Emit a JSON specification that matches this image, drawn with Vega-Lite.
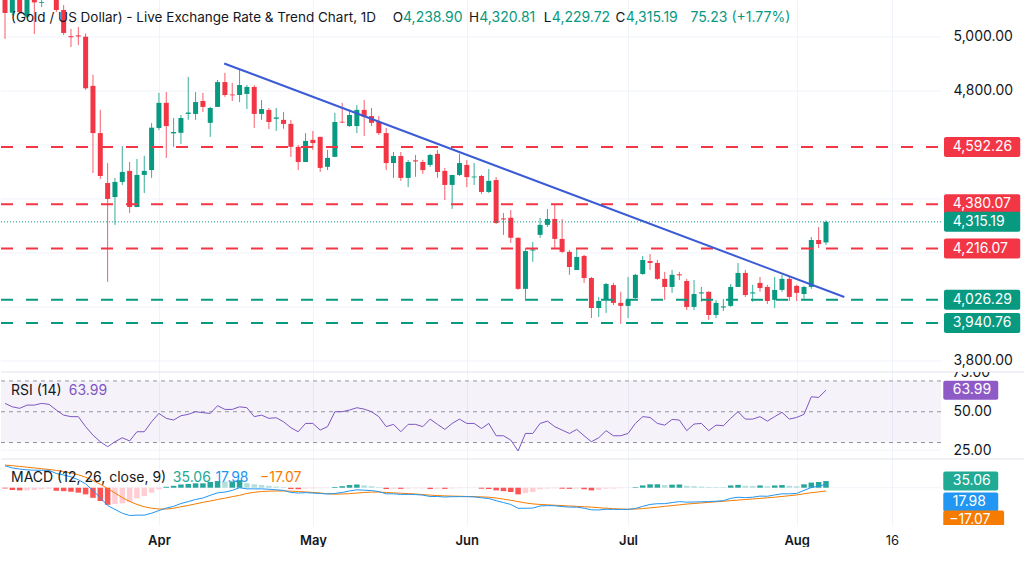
{
  "$schema": "https://vega.github.io/schema/vega-lite/v6.json",
  "padding": 0,
  "background": "white",
  "spacing": 0,
  "bounds": "flush",
  "resolve": {"scale": {"color": "independent"}},
  "config": {"view": {"stroke": null}, "font": "Inter", "scale": {"continuousPadding": 0}},
  "datasets": {
    "candles": [
      {"i":0,"o":5150,"h":5170,"l":4993,"c":5089},
      {"i":1,"o":5090,"h":5165,"l":5080,"c":5145},
      {"i":2,"o":5140,"h":5150,"l":5088,"c":5092},
      {"i":3,"o":5075,"h":5160,"l":5070,"c":5140},
      {"i":4,"o":5140,"h":5145,"l":5011,"c":5128},
      {"i":5,"o":5126,"h":5140,"l":5111,"c":5129},
      {"i":6,"o":5150,"h":5190,"l":5140,"c":5175},
      {"i":7,"o":5145,"h":5160,"l":5092,"c":5100},
      {"i":8,"o":5100,"h":5118,"l":5007,"c":5015},
      {"i":9,"o":5003,"h":5030,"l":4963,"c":4999},
      {"i":10,"o":5006,"h":5037,"l":4970,"c":5002},
      {"i":11,"o":5001,"h":5013,"l":4804,"c":4810},
      {"i":12,"o":4819,"h":4860,"l":4496,"c":4644},
      {"i":13,"o":4644,"h":4730,"l":4474,"c":4485},
      {"i":14,"o":4459,"h":4533,"l":4093,"c":4400},
      {"i":15,"o":4407,"h":4478,"l":4304,"c":4463},
      {"i":16,"o":4463,"h":4596,"l":4452,"c":4500},
      {"i":17,"o":4504,"h":4537,"l":4348,"c":4370},
      {"i":18,"o":4370,"h":4548,"l":4370,"c":4489},
      {"i":19,"o":4489,"h":4560,"l":4422,"c":4504},
      {"i":20,"o":4507,"h":4681,"l":4478,"c":4664},
      {"i":21,"o":4663,"h":4793,"l":4655,"c":4756},
      {"i":22,"o":4756,"h":4796,"l":4552,"c":4670},
      {"i":23,"o":4643,"h":4700,"l":4593,"c":4648},
      {"i":24,"o":4645,"h":4711,"l":4604,"c":4700},
      {"i":25,"o":4715,"h":4852,"l":4693,"c":4720},
      {"i":26,"o":4715,"h":4796,"l":4693,"c":4759},
      {"i":27,"o":4763,"h":4793,"l":4722,"c":4741},
      {"i":28,"o":4682,"h":4741,"l":4630,"c":4737},
      {"i":29,"o":4741,"h":4841,"l":4741,"c":4833},
      {"i":30,"o":4833,"h":4867,"l":4778,"c":4785},
      {"i":31,"o":4787,"h":4830,"l":4763,"c":4784},
      {"i":32,"o":4785,"h":4878,"l":4759,"c":4822},
      {"i":33,"o":4789,"h":4822,"l":4733,"c":4815},
      {"i":34,"o":4815,"h":4822,"l":4663,"c":4715},
      {"i":35,"o":4715,"h":4767,"l":4693,"c":4733},
      {"i":36,"o":4730,"h":4737,"l":4659,"c":4685},
      {"i":37,"o":4697,"h":4737,"l":4652,"c":4702},
      {"i":38,"o":4693,"h":4722,"l":4660,"c":4678},
      {"i":39,"o":4678,"h":4693,"l":4556,"c":4593},
      {"i":40,"o":4593,"h":4600,"l":4507,"c":4537},
      {"i":41,"o":4537,"h":4644,"l":4537,"c":4615},
      {"i":42,"o":4619,"h":4652,"l":4582,"c":4607},
      {"i":43,"o":4630,"h":4630,"l":4500,"c":4515},
      {"i":44,"o":4519,"h":4582,"l":4507,"c":4552},
      {"i":45,"o":4556,"h":4719,"l":4556,"c":4685},
      {"i":46,"o":4686,"h":4756,"l":4681,"c":4683},
      {"i":47,"o":4670,"h":4730,"l":4667,"c":4711},
      {"i":48,"o":4670,"h":4748,"l":4644,"c":4730},
      {"i":49,"o":4730,"h":4767,"l":4633,"c":4704},
      {"i":50,"o":4707,"h":4737,"l":4670,"c":4682},
      {"i":51,"o":4685,"h":4707,"l":4637,"c":4644},
      {"i":52,"o":4644,"h":4663,"l":4507,"c":4533},
      {"i":53,"o":4533,"h":4574,"l":4478,"c":4559},
      {"i":54,"o":4559,"h":4574,"l":4467,"c":4478},
      {"i":55,"o":4478,"h":4544,"l":4444,"c":4537},
      {"i":56,"o":4543,"h":4563,"l":4482,"c":4539},
      {"i":57,"o":4537,"h":4545,"l":4493,"c":4507},
      {"i":58,"o":4526,"h":4567,"l":4519,"c":4563},
      {"i":59,"o":4567,"h":4581,"l":4478,"c":4500},
      {"i":60,"o":4504,"h":4515,"l":4396,"c":4452},
      {"i":61,"o":4452,"h":4489,"l":4363,"c":4489},
      {"i":62,"o":4489,"h":4567,"l":4485,"c":4533},
      {"i":63,"o":4526,"h":4544,"l":4444,"c":4481},
      {"i":64,"o":4480,"h":4533,"l":4452,"c":4483},
      {"i":65,"o":4485,"h":4489,"l":4419,"c":4426},
      {"i":66,"o":4426,"h":4511,"l":4422,"c":4467},
      {"i":67,"o":4470,"h":4481,"l":4307,"c":4311},
      {"i":68,"o":4328,"h":4348,"l":4267,"c":4324},
      {"i":69,"o":4330,"h":4359,"l":4237,"c":4256},
      {"i":70,"o":4256,"h":4258,"l":4063,"c":4067},
      {"i":71,"o":4067,"h":4219,"l":4022,"c":4207},
      {"i":72,"o":4209,"h":4241,"l":4167,"c":4213},
      {"i":73,"o":4267,"h":4330,"l":4256,"c":4304},
      {"i":74,"o":4304,"h":4363,"l":4296,"c":4326},
      {"i":75,"o":4326,"h":4378,"l":4219,"c":4252},
      {"i":76,"o":4252,"h":4326,"l":4200,"c":4204},
      {"i":77,"o":4204,"h":4211,"l":4119,"c":4148},
      {"i":78,"o":4137,"h":4215,"l":4137,"c":4185},
      {"i":79,"o":4189,"h":4193,"l":4089,"c":4107},
      {"i":80,"o":4107,"h":4111,"l":3959,"c":3996},
      {"i":81,"o":3996,"h":4037,"l":3963,"c":4022},
      {"i":82,"o":4026,"h":4089,"l":3978,"c":4085},
      {"i":83,"o":4081,"h":4089,"l":4007,"c":4015},
      {"i":84,"o":4015,"h":4056,"l":3937,"c":4004},
      {"i":85,"o":4004,"h":4111,"l":3959,"c":4026},
      {"i":86,"o":4033,"h":4122,"l":4030,"c":4119},
      {"i":87,"o":4122,"h":4189,"l":4119,"c":4174},
      {"i":88,"o":4170,"h":4196,"l":4137,"c":4163},
      {"i":89,"o":4163,"h":4174,"l":4100,"c":4104},
      {"i":90,"o":4104,"h":4130,"l":4026,"c":4074},
      {"i":91,"o":4074,"h":4137,"l":4052,"c":4119},
      {"i":92,"o":4121,"h":4130,"l":4100,"c":4117},
      {"i":93,"o":4096,"h":4104,"l":3989,"c":4000},
      {"i":94,"o":4000,"h":4100,"l":3989,"c":4048},
      {"i":95,"o":4050,"h":4074,"l":4019,"c":4054},
      {"i":96,"o":4056,"h":4058,"l":3952,"c":3970},
      {"i":97,"o":3970,"h":4026,"l":3959,"c":4015},
      {"i":98,"o":3998,"h":4030,"l":3985,"c":4002},
      {"i":99,"o":4004,"h":4085,"l":4000,"c":4074},
      {"i":100,"o":4074,"h":4163,"l":4074,"c":4126},
      {"i":101,"o":4126,"h":4137,"l":4037,"c":4044},
      {"i":102,"o":4050,"h":4082,"l":4019,"c":4054},
      {"i":103,"o":4089,"h":4111,"l":4056,"c":4070},
      {"i":104,"o":4074,"h":4082,"l":4011,"c":4022},
      {"i":105,"o":4026,"h":4111,"l":3996,"c":4063},
      {"i":106,"o":4063,"h":4119,"l":4056,"c":4104},
      {"i":107,"o":4104,"h":4111,"l":4022,"c":4037},
      {"i":108,"o":4078,"h":4082,"l":4022,"c":4052},
      {"i":109,"o":4048,"h":4078,"l":4030,"c":4074},
      {"i":110,"o":4074,"h":4259,"l":4067,"c":4248},
      {"i":111,"o":4248,"h":4296,"l":4218,"c":4233},
      {"i":112,"o":4238.90,"h":4320.81,"l":4229.72,"c":4315.19}
    ],
    "ind": [
      {"i":0,"rsi":55.4,"macd":115,"signal":119,"hist":-4,"phase":"neg_grow"},
      {"i":1,"rsi":53.2,"macd":104,"signal":116,"hist":-12,"phase":"neg_grow"},
      {"i":2,"rsi":52.2,"macd":98,"signal":112,"hist":-14,"phase":"neg_grow"},
      {"i":3,"rsi":54.3,"macd":94,"signal":108,"hist":-14,"phase":"neg_fade"},
      {"i":4,"rsi":54.3,"macd":92,"signal":104,"hist":-12,"phase":"neg_fade"},
      {"i":5,"rsi":55.4,"macd":92,"signal":100,"hist":-8,"phase":"neg_fade"},
      {"i":6,"rsi":54.8,"macd":91,"signal":96,"hist":-5,"phase":"neg_fade"},
      {"i":7,"rsi":51.1,"macd":75,"signal":91,"hist":-16,"phase":"neg_grow"},
      {"i":8,"rsi":47.8,"macd":67,"signal":85,"hist":-18,"phase":"neg_grow"},
      {"i":9,"rsi":46.8,"macd":57,"signal":78,"hist":-21,"phase":"neg_grow"},
      {"i":10,"rsi":46.8,"macd":42,"signal":68,"hist":-26,"phase":"neg_grow"},
      {"i":11,"rsi":40.3,"macd":20,"signal":55,"hist":-35,"phase":"neg_grow"},
      {"i":12,"rsi":34.8,"macd":-15,"signal":38,"hist":-53,"phase":"neg_grow"},
      {"i":13,"rsi":30.5,"macd":-52,"signal":18,"hist":-70,"phase":"neg_grow"},
      {"i":14,"rsi":27.3,"macd":-94,"signal":-4,"hist":-90,"phase":"neg_grow"},
      {"i":15,"rsi":30.5,"macd":-114,"signal":-28,"hist":-86,"phase":"neg_fade"},
      {"i":16,"rsi":33.1,"macd":-134,"signal":-52,"hist":-82,"phase":"neg_fade"},
      {"i":17,"rsi":31.0,"macd":-146,"signal":-72,"hist":-74,"phase":"neg_fade"},
      {"i":18,"rsi":37.0,"macd":-144,"signal":-88,"hist":-56,"phase":"neg_fade"},
      {"i":19,"rsi":37.0,"macd":-144,"signal":-100,"hist":-44,"phase":"neg_fade"},
      {"i":20,"rsi":43.5,"macd":-134,"signal":-108,"hist":-26,"phase":"neg_fade"},
      {"i":21,"rsi":48.9,"macd":-120,"signal":-112,"hist":-8,"phase":"neg_fade"},
      {"i":22,"rsi":45.7,"macd":-107,"signal":-112,"hist":5,"phase":"pos_grow"},
      {"i":23,"rsi":44.6,"macd":-98,"signal":-108,"hist":10,"phase":"pos_grow"},
      {"i":24,"rsi":47.4,"macd":-83,"signal":-100,"hist":17,"phase":"pos_grow"},
      {"i":25,"rsi":48.3,"macd":-73,"signal":-93,"hist":20,"phase":"pos_grow"},
      {"i":26,"rsi":50.0,"macd":-62,"signal":-85,"hist":23,"phase":"pos_grow"},
      {"i":27,"rsi":49.4,"macd":-54,"signal":-77,"hist":23,"phase":"pos_grow"},
      {"i":28,"rsi":48.9,"macd":-40,"signal":-70,"hist":30,"phase":"pos_grow"},
      {"i":29,"rsi":53.9,"macd":-27,"signal":-62,"hist":35,"phase":"pos_grow"},
      {"i":30,"rsi":51.5,"macd":-23,"signal":-55,"hist":32,"phase":"pos_fade"},
      {"i":31,"rsi":51.5,"macd":-14,"signal":-47,"hist":33,"phase":"pos_grow"},
      {"i":32,"rsi":53.2,"macd":0,"signal":-40,"hist":40,"phase":"pos_grow"},
      {"i":33,"rsi":52.6,"macd":-6,"signal":-30,"hist":24,"phase":"pos_fade"},
      {"i":34,"rsi":46.8,"macd":-6,"signal":-24,"hist":18,"phase":"pos_fade"},
      {"i":35,"rsi":47.8,"macd":-6,"signal":-20,"hist":14,"phase":"pos_fade"},
      {"i":36,"rsi":45.7,"macd":-8,"signal":-18,"hist":10,"phase":"pos_fade"},
      {"i":37,"rsi":46.1,"macd":-11,"signal":-17,"hist":6,"phase":"pos_fade"},
      {"i":38,"rsi":43.5,"macd":-14,"signal":-17,"hist":3,"phase":"pos_fade"},
      {"i":39,"rsi":39.6,"macd":-25,"signal":-18,"hist":-7,"phase":"neg_grow"},
      {"i":40,"rsi":37.0,"macd":-28,"signal":-20,"hist":-8,"phase":"neg_grow"},
      {"i":41,"rsi":42.4,"macd":-26,"signal":-22,"hist":-4,"phase":"neg_fade"},
      {"i":42,"rsi":42.4,"macd":-28,"signal":-25,"hist":-3,"phase":"neg_fade"},
      {"i":43,"rsi":38.1,"macd":-30,"signal":-28,"hist":-2,"phase":"neg_fade"},
      {"i":44,"rsi":40.3,"macd":-33,"signal":-32,"hist":-1,"phase":"neg_fade"},
      {"i":45,"rsi":50.0,"macd":-30,"signal":-34,"hist":4,"phase":"pos_grow"},
      {"i":46,"rsi":50.0,"macd":-25,"signal":-33,"hist":8,"phase":"pos_grow"},
      {"i":47,"rsi":51.1,"macd":-17,"signal":-31,"hist":14,"phase":"pos_grow"},
      {"i":48,"rsi":52.6,"macd":-11,"signal":-28,"hist":17,"phase":"pos_grow"},
      {"i":49,"rsi":51.7,"macd":-13,"signal":-25,"hist":12,"phase":"pos_fade"},
      {"i":50,"rsi":50.0,"macd":-15,"signal":-23,"hist":8,"phase":"pos_fade"},
      {"i":51,"rsi":46.8,"macd":-20,"signal":-23,"hist":3,"phase":"pos_fade"},
      {"i":52,"rsi":40.3,"macd":-32,"signal":-25,"hist":-7,"phase":"neg_grow"},
      {"i":53,"rsi":41.8,"macd":-32,"signal":-27,"hist":-5,"phase":"neg_fade"},
      {"i":54,"rsi":37.0,"macd":-35,"signal":-29,"hist":-6,"phase":"neg_grow"},
      {"i":55,"rsi":41.8,"macd":-35,"signal":-31,"hist":-4,"phase":"neg_fade"},
      {"i":56,"rsi":41.8,"macd":-36,"signal":-33,"hist":-3,"phase":"neg_fade"},
      {"i":57,"rsi":40.3,"macd":-39,"signal":-36,"hist":-3,"phase":"neg_fade"},
      {"i":58,"rsi":45.2,"macd":-46,"signal":-39,"hist":-7,"phase":"neg_grow"},
      {"i":59,"rsi":41.8,"macd":-46,"signal":-41,"hist":-5,"phase":"neg_fade"},
      {"i":60,"rsi":38.5,"macd":-49,"signal":-43,"hist":-6,"phase":"neg_grow"},
      {"i":61,"rsi":42.4,"macd":-47,"signal":-44,"hist":-3,"phase":"neg_fade"},
      {"i":62,"rsi":45.2,"macd":-47,"signal":-45,"hist":-2,"phase":"neg_fade"},
      {"i":63,"rsi":42.4,"macd":-47,"signal":-46,"hist":-1,"phase":"neg_fade"},
      {"i":64,"rsi":42.4,"macd":-48,"signal":-47,"hist":-1,"phase":"neg_fade"},
      {"i":65,"rsi":39.1,"macd":-53,"signal":-48,"hist":-5,"phase":"neg_grow"},
      {"i":66,"rsi":42.4,"macd":-57,"signal":-50,"hist":-7,"phase":"neg_grow"},
      {"i":67,"rsi":34.4,"macd":-68,"signal":-54,"hist":-14,"phase":"neg_grow"},
      {"i":68,"rsi":34.4,"macd":-78,"signal":-60,"hist":-18,"phase":"neg_grow"},
      {"i":69,"rsi":31.6,"macd":-88,"signal":-66,"hist":-22,"phase":"neg_grow"},
      {"i":70,"rsi":24.5,"macd":-108,"signal":-73,"hist":-35,"phase":"neg_grow"},
      {"i":71,"rsi":35.9,"macd":-108,"signal":-80,"hist":-28,"phase":"neg_fade"},
      {"i":72,"rsi":35.9,"macd":-107,"signal":-85,"hist":-22,"phase":"neg_fade"},
      {"i":73,"rsi":42.4,"macd":-96,"signal":-88,"hist":-8,"phase":"neg_fade"},
      {"i":74,"rsi":43.9,"macd":-94,"signal":-90,"hist":-4,"phase":"neg_fade"},
      {"i":75,"rsi":40.3,"macd":-95,"signal":-92,"hist":-3,"phase":"neg_fade"},
      {"i":76,"rsi":38.1,"macd":-99,"signal":-94,"hist":-5,"phase":"neg_grow"},
      {"i":77,"rsi":35.9,"macd":-102,"signal":-96,"hist":-6,"phase":"neg_grow"},
      {"i":78,"rsi":38.5,"macd":-102,"signal":-98,"hist":-4,"phase":"neg_fade"},
      {"i":79,"rsi":34.4,"macd":-108,"signal":-100,"hist":-8,"phase":"neg_grow"},
      {"i":80,"rsi":30.5,"macd":-116,"signal":-102,"hist":-14,"phase":"neg_grow"},
      {"i":81,"rsi":33.1,"macd":-117,"signal":-105,"hist":-12,"phase":"neg_fade"},
      {"i":82,"rsi":37.7,"macd":-113,"signal":-108,"hist":-5,"phase":"neg_fade"},
      {"i":83,"rsi":34.4,"macd":-114,"signal":-110,"hist":-4,"phase":"neg_fade"},
      {"i":84,"rsi":34.4,"macd":-114,"signal":-112,"hist":-2,"phase":"neg_fade"},
      {"i":85,"rsi":35.9,"macd":-114,"signal":-113,"hist":-1,"phase":"neg_fade"},
      {"i":86,"rsi":42.4,"macd":-109,"signal":-112,"hist":3,"phase":"pos_grow"},
      {"i":87,"rsi":46.8,"macd":-98,"signal":-110,"hist":12,"phase":"pos_grow"},
      {"i":88,"rsi":46.3,"macd":-88,"signal":-106,"hist":18,"phase":"pos_grow"},
      {"i":89,"rsi":42.4,"macd":-84,"signal":-102,"hist":18,"phase":"pos_grow"},
      {"i":90,"rsi":41.3,"macd":-84,"signal":-98,"hist":14,"phase":"pos_fade"},
      {"i":91,"rsi":45.0,"macd":-78,"signal":-94,"hist":16,"phase":"pos_grow"},
      {"i":92,"rsi":44.6,"macd":-73,"signal":-90,"hist":17,"phase":"pos_grow"},
      {"i":93,"rsi":37.7,"macd":-76,"signal":-86,"hist":10,"phase":"pos_fade"},
      {"i":94,"rsi":42.0,"macd":-75,"signal":-83,"hist":8,"phase":"pos_fade"},
      {"i":95,"rsi":42.4,"macd":-74,"signal":-80,"hist":6,"phase":"pos_fade"},
      {"i":96,"rsi":37.7,"macd":-73,"signal":-77,"hist":4,"phase":"pos_fade"},
      {"i":97,"rsi":41.3,"macd":-71,"signal":-74,"hist":3,"phase":"pos_fade"},
      {"i":98,"rsi":40.9,"macd":-68,"signal":-71,"hist":3,"phase":"pos_fade"},
      {"i":99,"rsi":45.7,"macd":-56,"signal":-68,"hist":12,"phase":"pos_grow"},
      {"i":100,"rsi":50.0,"macd":-50,"signal":-65,"hist":15,"phase":"pos_grow"},
      {"i":101,"rsi":45.2,"macd":-52,"signal":-62,"hist":10,"phase":"pos_fade"},
      {"i":102,"rsi":45.2,"macd":-50,"signal":-59,"hist":9,"phase":"pos_fade"},
      {"i":103,"rsi":46.8,"macd":-44,"signal":-56,"hist":12,"phase":"pos_grow"},
      {"i":104,"rsi":43.9,"macd":-45,"signal":-53,"hist":8,"phase":"pos_fade"},
      {"i":105,"rsi":46.8,"macd":-38,"signal":-50,"hist":12,"phase":"pos_grow"},
      {"i":106,"rsi":49.6,"macd":-32,"signal":-46,"hist":14,"phase":"pos_grow"},
      {"i":107,"rsi":45.2,"macd":-32,"signal":-42,"hist":10,"phase":"pos_fade"},
      {"i":108,"rsi":46.3,"macd":-30,"signal":-38,"hist":8,"phase":"pos_fade"},
      {"i":109,"rsi":48.3,"macd":-14,"signal":-32,"hist":18,"phase":"pos_grow"},
      {"i":110,"rsi":59.7,"macd":1,"signal":-26,"hist":27,"phase":"pos_grow"},
      {"i":111,"rsi":59.3,"macd":8,"signal":-22,"hist":30,"phase":"pos_grow"},
      {"i":112,"rsi":63.99,"macd":17.98,"signal":-17.07,"hist":35.06,"phase":"pos_grow"}
    ],
    "levels": [
      {"level":4592.26,"kind":"res"},
      {"level":4380.07,"kind":"res"},
      {"level":4216.07,"kind":"res"},
      {"level":4026.29,"kind":"sup"},
      {"level":3940.76,"kind":"sup"}
    ],
    "trend": [
      {"i":29.9,"p":4902},
      {"i":114.5,"p":4037}
    ],
    "pgrid": [{"v":3800},{"v":4000},{"v":4200},{"v":4400},{"v":4600},{"v":4800},{"v":5000}],
    "rsiBands": [{"v":30},{"v":50},{"v":70}],
    "one": [{}]
  },
  "vconcat": [
    {
      "width": 1024,
      "height": 372,
      "layer": [
        {
          "data": {"name": "pgrid"},
          "mark": {"type": "rule", "color": "#f0f3fa", "strokeWidth": 1},
          "encoding": {
            "x": {"datum": -0.546, "type": "quantitative", "scale": {"domain": [-0.546, 139.15], "nice": false, "zero": false, "padding": 0}},
            "x2": {"datum": 127.7},
            "y": {"field": "v", "type": "quantitative", "scale": {"domain": [3759, 5137], "nice": false, "zero": false, "padding": 0}}
          }
        },
        {
          "data": {"name": "candles"},
          "mark": {"type": "rule", "strokeWidth": 1, "opacity": 0.8, "clip": true},
          "encoding": {
            "x": {"field": "i", "type": "quantitative", "scale": {"domain": [-0.546, 139.15], "nice": false, "zero": false, "padding": 0},
              "axis": {"values": [21, 42, 63, 85, 108, 121], "grid": true, "gridColor": "#f0f3fa", "labels": false, "ticks": false, "domain": false, "title": null}},
            "y": {"field": "l", "type": "quantitative", "scale": {"domain": [3759, 5137], "nice": false, "zero": false, "padding": 0},
              "axis": {"orient": "right", "values": [3800, 4800, 5000], "format": ",.2f", "offset": -84, "domain": false, "ticks": false, "grid": false, "labelAlign": "left", "labelPadding": 12, "labelFontSize": 14, "labelColor": "#131722", "title": null}},
            "y2": {"field": "h"},
            "color": {"condition": {"test": "datum.c >= datum.o", "value": "#089981"}, "value": "#f23645"}
          }
        },
        {
          "data": {"name": "candles"},
          "mark": {"type": "bar", "width": 5, "clip": true},
          "encoding": {
            "x": {"field": "i", "type": "quantitative", "scale": {"domain": [-0.546, 139.15], "nice": false, "zero": false, "padding": 0}},
            "y": {"field": "o", "type": "quantitative", "scale": {"domain": [3759, 5137], "nice": false, "zero": false, "padding": 0}},
            "y2": {"field": "c"},
            "color": {"condition": {"test": "datum.c >= datum.o", "value": "#089981"}, "value": "#f23645"}
          }
        },
        {
          "data": {"name": "levels"},
          "mark": {"type": "rule", "strokeWidth": 2, "strokeDash": [12, 13]},
          "encoding": {
            "x": {"datum": -0.546, "type": "quantitative", "scale": {"domain": [-0.546, 139.15], "nice": false, "zero": false, "padding": 0}},
            "x2": {"datum": 127.7},
            "y": {"field": "level", "type": "quantitative", "scale": {"domain": [3759, 5137], "nice": false, "zero": false, "padding": 0}},
            "color": {"field": "kind", "type": "nominal", "scale": {"domain": ["res", "sup"], "range": ["#f23645", "#089981"]}, "legend": null}
          }
        },
        {
          "data": {"name": "candles"},
          "transform": [{"filter": "datum.i == 112"}],
          "mark": {"type": "rule", "strokeWidth": 1, "strokeDash": [1, 2], "color": "#089981"},
          "encoding": {
            "x": {"datum": -0.546, "type": "quantitative", "scale": {"domain": [-0.546, 139.15], "nice": false, "zero": false, "padding": 0}},
            "x2": {"datum": 127.7},
            "y": {"field": "c", "type": "quantitative", "scale": {"domain": [3759, 5137], "nice": false, "zero": false, "padding": 0}}
          }
        },
        {
          "data": {"name": "trend"},
          "mark": {"type": "line", "color": "#3b5bd6", "strokeWidth": 2},
          "encoding": {
            "x": {"field": "i", "type": "quantitative", "scale": {"domain": [-0.546, 139.15], "nice": false, "zero": false, "padding": 0}},
            "y": {"field": "p", "type": "quantitative", "scale": {"domain": [3759, 5137], "nice": false, "zero": false, "padding": 0}}
          }
        },
        {
          "data": {"name": "levels"},
          "mark": {"type": "bar", "height": 20, "cornerRadius": 2},
          "encoding": {
            "x": {"datum": 128.1, "type": "quantitative", "scale": {"domain": [-0.546, 139.15], "nice": false, "zero": false, "padding": 0}},
            "x2": {"datum": 138.5},
            "y": {"field": "level", "type": "quantitative", "scale": {"domain": [3759, 5137], "nice": false, "zero": false, "padding": 0}},
            "color": {"field": "kind", "type": "nominal", "scale": {"domain": ["res", "sup"], "range": ["#f23645", "#089981"]}, "legend": null}
          }
        },
        {
          "data": {"name": "candles"},
          "transform": [{"filter": "datum.i == 112"}],
          "mark": {"type": "bar", "height": 20, "cornerRadius": 2, "color": "#089981"},
          "encoding": {
            "x": {"datum": 128.1, "type": "quantitative", "scale": {"domain": [-0.546, 139.15], "nice": false, "zero": false, "padding": 0}},
            "x2": {"datum": 138.5},
            "y": {"field": "c", "type": "quantitative", "scale": {"domain": [3759, 5137], "nice": false, "zero": false, "padding": 0}}
          }
        },
        {
          "data": {"name": "levels"},
          "mark": {"type": "text", "align": "left", "baseline": "middle", "fontSize": 14, "color": "white"},
          "encoding": {
            "x": {"datum": 129.3, "type": "quantitative", "scale": {"domain": [-0.546, 139.15], "nice": false, "zero": false, "padding": 0}},
            "y": {"field": "level", "type": "quantitative", "scale": {"domain": [3759, 5137], "nice": false, "zero": false, "padding": 0}},
            "text": {"field": "level", "type": "quantitative", "format": ",.2f"}
          }
        },
        {
          "data": {"name": "candles"},
          "transform": [{"filter": "datum.i == 112"}],
          "mark": {"type": "text", "align": "left", "baseline": "middle", "fontSize": 14, "color": "white"},
          "encoding": {
            "x": {"datum": 129.3, "type": "quantitative", "scale": {"domain": [-0.546, 139.15], "nice": false, "zero": false, "padding": 0}},
            "y": {"field": "c", "type": "quantitative", "scale": {"domain": [3759, 5137], "nice": false, "zero": false, "padding": 0}},
            "text": {"field": "c", "type": "quantitative", "format": ",.2f"}
          }
        },
        {
          "data": {"name": "one"},
          "mark": {"type": "text", "align": "left", "baseline": "middle", "fontSize": 13.5, "color": "#131722", "text": "(Gold / US Dollar) - Live Exchange Rate & Trend Chart, 1D"},
          "encoding": {
            "x": {"datum": 0.82, "type": "quantitative", "scale": {"domain": [-0.546, 139.15], "nice": false, "zero": false, "padding": 0}},
            "y": {"datum": 5070, "type": "quantitative", "scale": {"domain": [3759, 5137], "nice": false, "zero": false, "padding": 0}}
          }
        },
        {
          "data": {"name": "one"},
          "mark": {"type": "text", "align": "left", "baseline": "middle", "fontSize": 13.5, "color": "#131722", "text": "O"},
          "encoding": {
            "x": {"datum": 52.9, "type": "quantitative", "scale": {"domain": [-0.546, 139.15], "nice": false, "zero": false, "padding": 0}},
            "y": {"datum": 5070, "type": "quantitative", "scale": {"domain": [3759, 5137], "nice": false, "zero": false, "padding": 0}}
          }
        },
        {
          "data": {"name": "one"},
          "mark": {"type": "text", "align": "left", "baseline": "middle", "fontSize": 14, "color": "#089981", "text": "4,238.90"},
          "encoding": {
            "x": {"datum": 54.3, "type": "quantitative", "scale": {"domain": [-0.546, 139.15], "nice": false, "zero": false, "padding": 0}},
            "y": {"datum": 5070, "type": "quantitative", "scale": {"domain": [3759, 5137], "nice": false, "zero": false, "padding": 0}}
          }
        },
        {
          "data": {"name": "one"},
          "mark": {"type": "text", "align": "left", "baseline": "middle", "fontSize": 13.5, "color": "#131722", "text": "H"},
          "encoding": {
            "x": {"datum": 63.3, "type": "quantitative", "scale": {"domain": [-0.546, 139.15], "nice": false, "zero": false, "padding": 0}},
            "y": {"datum": 5070, "type": "quantitative", "scale": {"domain": [3759, 5137], "nice": false, "zero": false, "padding": 0}}
          }
        },
        {
          "data": {"name": "one"},
          "mark": {"type": "text", "align": "left", "baseline": "middle", "fontSize": 14, "color": "#089981", "text": "4,320.81"},
          "encoding": {
            "x": {"datum": 64.7, "type": "quantitative", "scale": {"domain": [-0.546, 139.15], "nice": false, "zero": false, "padding": 0}},
            "y": {"datum": 5070, "type": "quantitative", "scale": {"domain": [3759, 5137], "nice": false, "zero": false, "padding": 0}}
          }
        },
        {
          "data": {"name": "one"},
          "mark": {"type": "text", "align": "left", "baseline": "middle", "fontSize": 13.5, "color": "#131722", "text": "L"},
          "encoding": {
            "x": {"datum": 73.5, "type": "quantitative", "scale": {"domain": [-0.546, 139.15], "nice": false, "zero": false, "padding": 0}},
            "y": {"datum": 5070, "type": "quantitative", "scale": {"domain": [3759, 5137], "nice": false, "zero": false, "padding": 0}}
          }
        },
        {
          "data": {"name": "one"},
          "mark": {"type": "text", "align": "left", "baseline": "middle", "fontSize": 14, "color": "#089981", "text": "4,229.72"},
          "encoding": {
            "x": {"datum": 74.6, "type": "quantitative", "scale": {"domain": [-0.546, 139.15], "nice": false, "zero": false, "padding": 0}},
            "y": {"datum": 5070, "type": "quantitative", "scale": {"domain": [3759, 5137], "nice": false, "zero": false, "padding": 0}}
          }
        },
        {
          "data": {"name": "one"},
          "mark": {"type": "text", "align": "left", "baseline": "middle", "fontSize": 13.5, "color": "#131722", "text": "C"},
          "encoding": {
            "x": {"datum": 83.3, "type": "quantitative", "scale": {"domain": [-0.546, 139.15], "nice": false, "zero": false, "padding": 0}},
            "y": {"datum": 5070, "type": "quantitative", "scale": {"domain": [3759, 5137], "nice": false, "zero": false, "padding": 0}}
          }
        },
        {
          "data": {"name": "one"},
          "mark": {"type": "text", "align": "left", "baseline": "middle", "fontSize": 14, "color": "#089981", "text": "4,315.19"},
          "encoding": {
            "x": {"datum": 84.7, "type": "quantitative", "scale": {"domain": [-0.546, 139.15], "nice": false, "zero": false, "padding": 0}},
            "y": {"datum": 5070, "type": "quantitative", "scale": {"domain": [3759, 5137], "nice": false, "zero": false, "padding": 0}}
          }
        },
        {
          "data": {"name": "one"},
          "mark": {"type": "text", "align": "left", "baseline": "middle", "fontSize": 14, "color": "#089981", "text": "75.23 (+1.77%)"},
          "encoding": {
            "x": {"datum": 93.5, "type": "quantitative", "scale": {"domain": [-0.546, 139.15], "nice": false, "zero": false, "padding": 0}},
            "y": {"datum": 5070, "type": "quantitative", "scale": {"domain": [3759, 5137], "nice": false, "zero": false, "padding": 0}}
          }
        }
      ]
    },
    {
      "width": 1024,
      "height": 87,
      "layer": [
        {
          "data": {"name": "one"},
          "mark": {"type": "rect", "color": "#7e57c2", "opacity": 0.08},
          "encoding": {
            "x": {"datum": -0.546, "type": "quantitative", "scale": {"domain": [-0.546, 139.15], "nice": false, "zero": false, "padding": 0}},
            "x2": {"datum": 127.7},
            "y": {"datum": 30, "type": "quantitative", "scale": {"domain": [19.3, 75.8], "nice": false, "zero": false, "padding": 0}},
            "y2": {"datum": 70}
          }
        },
        {
          "data": {"name": "one"},
          "mark": {"type": "rule", "color": "#e0e3eb", "strokeWidth": 1},
          "encoding": {
            "x": {"datum": -0.546, "type": "quantitative", "scale": {"domain": [-0.546, 139.15], "nice": false, "zero": false, "padding": 0}},
            "x2": {"datum": 139.15},
            "y": {"datum": 75.8, "type": "quantitative", "scale": {"domain": [19.3, 75.8], "nice": false, "zero": false, "padding": 0}}
          }
        },
        {
          "data": {"name": "one"},
          "mark": {"type": "rule", "color": "#f0f3fa", "strokeWidth": 1},
          "encoding": {
            "x": {"datum": -0.546, "type": "quantitative", "scale": {"domain": [-0.546, 139.15], "nice": false, "zero": false, "padding": 0}},
            "x2": {"datum": 127.7},
            "y": {"datum": 25, "type": "quantitative", "scale": {"domain": [19.3, 75.8], "nice": false, "zero": false, "padding": 0}}
          }
        },
        {
          "data": {"name": "rsiBands"},
          "mark": {"type": "rule", "color": "#9598a1", "strokeWidth": 1, "strokeDash": [4, 4]},
          "encoding": {
            "x": {"datum": -0.546, "type": "quantitative", "scale": {"domain": [-0.546, 139.15], "nice": false, "zero": false, "padding": 0}},
            "x2": {"datum": 127.7},
            "y": {"field": "v", "type": "quantitative", "scale": {"domain": [19.3, 75.8], "nice": false, "zero": false, "padding": 0}}
          }
        },
        {
          "data": {"name": "ind"},
          "mark": {"type": "line", "color": "#7e57c2", "strokeWidth": 1},
          "encoding": {
            "x": {"field": "i", "type": "quantitative", "scale": {"domain": [-0.546, 139.15], "nice": false, "zero": false, "padding": 0},
              "axis": {"values": [21, 42, 63, 85, 108, 121], "grid": true, "gridColor": "#f0f3fa", "labels": false, "ticks": false, "domain": false, "title": null}},
            "y": {"field": "rsi", "type": "quantitative", "scale": {"domain": [19.3, 75.8], "nice": false, "zero": false, "padding": 0},
              "axis": {"orient": "right", "values": [25, 50], "format": ".2f", "offset": -84, "domain": false, "ticks": false, "grid": false, "labelAlign": "left", "labelPadding": 12, "labelFontSize": 14, "labelColor": "#131722", "title": null}}
          }
        },
        {
          "data": {"name": "one"},
          "mark": {"type": "text", "align": "left", "baseline": "middle", "fontSize": 14, "color": "#131722", "text": "75.00", "clip": true},
          "encoding": {
            "x": {"datum": 129.3, "type": "quantitative", "scale": {"domain": [-0.546, 139.15], "nice": false, "zero": false, "padding": 0}},
            "y": {"datum": 75, "type": "quantitative", "scale": {"domain": [19.3, 75.8], "nice": false, "zero": false, "padding": 0}}
          }
        },
        {
          "data": {"name": "ind"},
          "transform": [{"filter": "datum.i == 112"}],
          "mark": {"type": "bar", "height": 19, "cornerRadius": 2, "color": "#8e5bc6"},
          "encoding": {
            "x": {"datum": 128.0, "type": "quantitative", "scale": {"domain": [-0.546, 139.15], "nice": false, "zero": false, "padding": 0}},
            "x2": {"datum": 135.5},
            "y": {"field": "rsi", "type": "quantitative", "scale": {"domain": [19.3, 75.8], "nice": false, "zero": false, "padding": 0}}
          }
        },
        {
          "data": {"name": "ind"},
          "transform": [{"filter": "datum.i == 112"}],
          "mark": {"type": "text", "align": "left", "baseline": "middle", "fontSize": 14, "color": "white"},
          "encoding": {
            "x": {"datum": 129.3, "type": "quantitative", "scale": {"domain": [-0.546, 139.15], "nice": false, "zero": false, "padding": 0}},
            "y": {"field": "rsi", "type": "quantitative", "scale": {"domain": [19.3, 75.8], "nice": false, "zero": false, "padding": 0}},
            "text": {"field": "rsi", "type": "quantitative", "format": ".2f"}
          }
        },
        {
          "data": {"name": "one"},
          "mark": {"type": "text", "align": "left", "baseline": "middle", "fontSize": 14, "color": "#131722", "text": "RSI (14)"},
          "encoding": {
            "x": {"datum": 0.82, "type": "quantitative", "scale": {"domain": [-0.546, 139.15], "nice": false, "zero": false, "padding": 0}},
            "y": {"datum": 63.4, "type": "quantitative", "scale": {"domain": [19.3, 75.8], "nice": false, "zero": false, "padding": 0}}
          }
        },
        {
          "data": {"name": "ind"},
          "transform": [{"filter": "datum.i == 112"}],
          "mark": {"type": "text", "align": "left", "baseline": "middle", "fontSize": 14, "color": "#7e57c2"},
          "encoding": {
            "x": {"datum": 8.7, "type": "quantitative", "scale": {"domain": [-0.546, 139.15], "nice": false, "zero": false, "padding": 0}},
            "y": {"datum": 63.4, "type": "quantitative", "scale": {"domain": [19.3, 75.8], "nice": false, "zero": false, "padding": 0}},
            "text": {"field": "rsi", "type": "quantitative", "format": ".2f"}
          }
        }
      ]
    },
    {
      "width": 1024,
      "height": 66,
      "layer": [
        {
          "data": {"name": "one"},
          "mark": {"type": "rule", "color": "#e0e3eb", "strokeWidth": 1},
          "encoding": {
            "x": {"datum": -0.546, "type": "quantitative", "scale": {"domain": [-0.546, 139.15], "nice": false, "zero": false, "padding": 0}},
            "x2": {"datum": 139.15},
            "y": {"datum": 151, "type": "quantitative", "scale": {"domain": [-196, 151], "nice": false, "zero": false, "padding": 0}, "axis": null}
          }
        },
        {
          "data": {"name": "one"},
          "mark": {"type": "rule", "color": "#f0f3fa", "strokeWidth": 1},
          "encoding": {
            "x": {"datum": -0.546, "type": "quantitative", "scale": {"domain": [-0.546, 139.15], "nice": false, "zero": false, "padding": 0}},
            "x2": {"datum": 127.7},
            "y": {"datum": 0, "type": "quantitative", "scale": {"domain": [-196, 151], "nice": false, "zero": false, "padding": 0}}
          }
        },
        {
          "data": {"name": "ind"},
          "mark": {"type": "bar", "width": 5.5},
          "encoding": {
            "x": {"field": "i", "type": "quantitative", "scale": {"domain": [-0.546, 139.15], "nice": false, "zero": false, "padding": 0},
              "axis": {"orient": "bottom", "values": [21, 42, 63, 85, 108, 121], "grid": true, "gridColor": "#f0f3fa", "ticks": false, "domain": false, "title": null,
                "labelExpr": "datum.value == 21 ? 'Apr' : datum.value == 42 ? 'May' : datum.value == 63 ? 'Jun' : datum.value == 85 ? 'Jul' : datum.value == 108 ? 'Aug' : '16'",
                "labelFontSize": 13, "labelColor": "#131722", "labelPadding": 9,
                "labelFontWeight": {"condition": {"test": "datum.value == 121", "value": "normal"}, "value": 600}}},
            "y": {"field": "hist", "type": "quantitative", "scale": {"domain": [-196, 151], "nice": false, "zero": false, "padding": 0}},
            "y2": {"datum": 0},
            "color": {"field": "phase", "type": "nominal", "scale": {"domain": ["pos_grow", "pos_fade", "neg_grow", "neg_fade"], "range": ["#26a69a", "#b2dfdb", "#ff5252", "#ffcdd2"]}, "legend": null}
          }
        },
        {
          "data": {"name": "ind"},
          "mark": {"type": "line", "color": "#f57c00", "strokeWidth": 1},
          "encoding": {
            "x": {"field": "i", "type": "quantitative", "scale": {"domain": [-0.546, 139.15], "nice": false, "zero": false, "padding": 0}},
            "y": {"field": "signal", "type": "quantitative", "scale": {"domain": [-196, 151], "nice": false, "zero": false, "padding": 0}}
          }
        },
        {
          "data": {"name": "ind"},
          "mark": {"type": "line", "color": "#2196f3", "strokeWidth": 1},
          "encoding": {
            "x": {"field": "i", "type": "quantitative", "scale": {"domain": [-0.546, 139.15], "nice": false, "zero": false, "padding": 0}},
            "y": {"field": "macd", "type": "quantitative", "scale": {"domain": [-196, 151], "nice": false, "zero": false, "padding": 0}}
          }
        },
        {
          "data": {"name": "ind"},
          "transform": [{"filter": "datum.i == 112"}],
          "mark": {"type": "bar", "height": 19, "cornerRadius": 2, "color": "#22ab94"},
          "encoding": {
            "x": {"datum": 128.0, "type": "quantitative", "scale": {"domain": [-0.546, 139.15], "nice": false, "zero": false, "padding": 0}},
            "x2": {"datum": 135.5},
            "y": {"field": "hist", "type": "quantitative", "scale": {"domain": [-196, 151], "nice": false, "zero": false, "padding": 0}}
          }
        },
        {
          "data": {"name": "one"},
          "mark": {"type": "bar", "height": 19, "cornerRadius": 2, "color": "#2196f3"},
          "encoding": {
            "x": {"datum": 128.0, "type": "quantitative", "scale": {"domain": [-0.546, 139.15], "nice": false, "zero": false, "padding": 0}},
            "x2": {"datum": 135.5},
            "y": {"datum": -75, "type": "quantitative", "scale": {"domain": [-196, 151], "nice": false, "zero": false, "padding": 0}}
          }
        },
        {
          "data": {"name": "one"},
          "mark": {"type": "bar", "height": 19, "cornerRadius": 2, "color": "#f57c00", "clip": true},
          "encoding": {
            "x": {"datum": 128.0, "type": "quantitative", "scale": {"domain": [-0.546, 139.15], "nice": false, "zero": false, "padding": 0}},
            "x2": {"datum": 136.3},
            "y": {"datum": -170, "type": "quantitative", "scale": {"domain": [-196, 151], "nice": false, "zero": false, "padding": 0}}
          }
        },
        {
          "data": {"name": "ind"},
          "transform": [{"filter": "datum.i == 112"}],
          "mark": {"type": "text", "align": "left", "baseline": "middle", "fontSize": 14, "color": "white"},
          "encoding": {
            "x": {"datum": 129.3, "type": "quantitative", "scale": {"domain": [-0.546, 139.15], "nice": false, "zero": false, "padding": 0}},
            "y": {"field": "hist", "type": "quantitative", "scale": {"domain": [-196, 151], "nice": false, "zero": false, "padding": 0}},
            "text": {"field": "hist", "type": "quantitative", "format": ".2f"}
          }
        },
        {
          "data": {"name": "ind"},
          "transform": [{"filter": "datum.i == 112"}],
          "mark": {"type": "text", "align": "left", "baseline": "middle", "fontSize": 14, "color": "white"},
          "encoding": {
            "x": {"datum": 129.3, "type": "quantitative", "scale": {"domain": [-0.546, 139.15], "nice": false, "zero": false, "padding": 0}},
            "y": {"datum": -75, "type": "quantitative", "scale": {"domain": [-196, 151], "nice": false, "zero": false, "padding": 0}},
            "text": {"field": "macd", "type": "quantitative", "format": ".2f"}
          }
        },
        {
          "data": {"name": "ind"},
          "transform": [{"filter": "datum.i == 112"}],
          "mark": {"type": "text", "align": "left", "baseline": "middle", "fontSize": 14, "color": "white", "clip": true},
          "encoding": {
            "x": {"datum": 128.8, "type": "quantitative", "scale": {"domain": [-0.546, 139.15], "nice": false, "zero": false, "padding": 0}},
            "y": {"datum": -170, "type": "quantitative", "scale": {"domain": [-196, 151], "nice": false, "zero": false, "padding": 0}},
            "text": {"field": "signal", "type": "quantitative", "format": ".2f"}
          }
        },
        {
          "data": {"name": "one"},
          "mark": {"type": "text", "align": "left", "baseline": "middle", "fontSize": 14, "color": "#131722", "text": "MACD (12, 26, close, 9)"},
          "encoding": {
            "x": {"datum": 0.82, "type": "quantitative", "scale": {"domain": [-0.546, 139.15], "nice": false, "zero": false, "padding": 0}},
            "y": {"datum": 51, "type": "quantitative", "scale": {"domain": [-196, 151], "nice": false, "zero": false, "padding": 0}}
          }
        },
        {
          "data": {"name": "ind"},
          "transform": [{"filter": "datum.i == 112"}],
          "mark": {"type": "text", "align": "left", "baseline": "middle", "fontSize": 14, "color": "#22ab94"},
          "encoding": {
            "x": {"datum": 22.9, "type": "quantitative", "scale": {"domain": [-0.546, 139.15], "nice": false, "zero": false, "padding": 0}},
            "y": {"datum": 51, "type": "quantitative", "scale": {"domain": [-196, 151], "nice": false, "zero": false, "padding": 0}},
            "text": {"field": "hist", "type": "quantitative", "format": ".2f"}
          }
        },
        {
          "data": {"name": "ind"},
          "transform": [{"filter": "datum.i == 112"}],
          "mark": {"type": "text", "align": "left", "baseline": "middle", "fontSize": 14, "color": "#2196f3"},
          "encoding": {
            "x": {"datum": 28.7, "type": "quantitative", "scale": {"domain": [-0.546, 139.15], "nice": false, "zero": false, "padding": 0}},
            "y": {"datum": 51, "type": "quantitative", "scale": {"domain": [-196, 151], "nice": false, "zero": false, "padding": 0}},
            "text": {"field": "macd", "type": "quantitative", "format": ".2f"}
          }
        },
        {
          "data": {"name": "ind"},
          "transform": [{"filter": "datum.i == 112"}],
          "mark": {"type": "text", "align": "left", "baseline": "middle", "fontSize": 14, "color": "#f57c00"},
          "encoding": {
            "x": {"datum": 34.8, "type": "quantitative", "scale": {"domain": [-0.546, 139.15], "nice": false, "zero": false, "padding": 0}},
            "y": {"datum": 51, "type": "quantitative", "scale": {"domain": [-196, 151], "nice": false, "zero": false, "padding": 0}},
            "text": {"field": "signal", "type": "quantitative", "format": ".2f"}
          }
        }
      ]
    }
  ]
}
